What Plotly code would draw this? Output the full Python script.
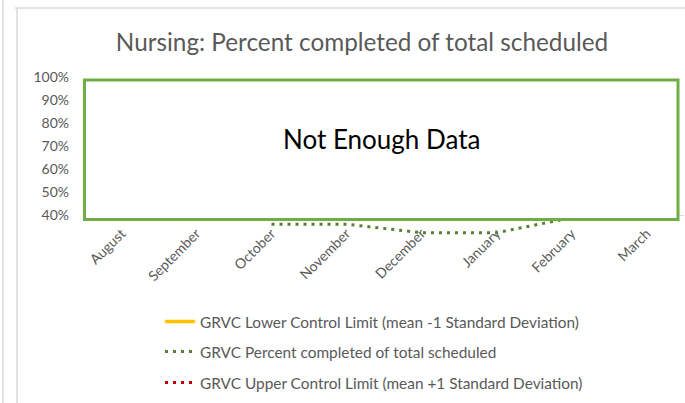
import plotly.graph_objects as go

# Daten
months = ["August", "September", "October", "November", "December", "January", "February", "March"]
pct_completed = [None, None, 0.36, 0.36, 0.323, 0.323, 0.388, None]
lower_limit = [None] * 8
upper_limit = [None] * 8
y_ticks = [0.4, 0.5, 0.6, 0.7, 0.8, 0.9, 1.0]

W, H = 685, 403
L, R, T, B = 84, 1, 77, 150
AXIS_Y = 215  # pixel row of the 40% line

FONT = "Lato, Carlito, Calibri, sans-serif"
GRAY = "#595959"


def px_x(px):
    return (px - L) / (W - L - R)


def px_y(py):
    return (H - B - py) / (H - T - B)


y_dom0 = px_y(AXIS_Y)
px_per_unit = (AXIS_Y - T) / (y_ticks[-1] - y_ticks[0])
y2_low = y_ticks[0] - (H - B - AXIS_Y) / px_per_unit

fig = go.Figure()

fig.add_trace(go.Scatter(
    x=months, y=lower_limit, mode="lines", name="GRVC Lower Control Limit (mean -1 Standard Deviation)",
    line=dict(color="#FFC000", width=3.5), legend="legend", showlegend=True,
))
fig.add_trace(go.Scatter(
    x=months, y=pct_completed, mode="lines", name="GRVC Percent completed of total scheduled",
    line=dict(color="#548235", width=3, dash="3px,5px"), xaxis="x2", yaxis="y2", legend="legend2",
))
fig.add_trace(go.Scatter(
    x=months, y=upper_limit, mode="lines", name="GRVC Upper Control Limit (mean +1 Standard Deviation)",
    line=dict(color="#C00000", width=3, dash="3px,5px"), legend="legend3",
))

legend_style = dict(
    xref="paper", yref="paper", x=px_x(160), xanchor="left", yanchor="middle",
    font=dict(family=FONT, size=15.4, color=GRAY), bgcolor="rgba(0,0,0,0)",
)

fig.update_layout(
    width=W, height=H,
    margin=dict(l=L, r=R, t=T, b=B, autoexpand=False),
    paper_bgcolor="white", plot_bgcolor="rgba(0,0,0,0)",
    showlegend=True,
    font=dict(family=FONT, color=GRAY),
    title=dict(
        text="Nursing: Percent completed of total scheduled",
        x=362 / W, xanchor="center", xref="container",
        y=1 - 42 / H, yanchor="middle", yref="container",
        font=dict(family=FONT, size=24.3, color=GRAY),
    ),
    xaxis=dict(
        type="category", categoryarray=months, range=[-0.5, 7.5], anchor="y",
        showgrid=False, showline=True, linecolor="#D9D9D9", linewidth=1,
        ticks="", tickangle=-45, ticklabelstandoff=4, automargin=False,
        tickfont=dict(family=FONT, size=14, color=GRAY),
    ),
    yaxis=dict(
        domain=[y_dom0, 1], range=[y_ticks[0], y_ticks[-1]],
        tickvals=y_ticks, tickformat=".0%", showgrid=False, zeroline=False,
        ticks="", ticklabelstandoff=14, automargin=False,
        tickfont=dict(family=FONT, size=14, color=GRAY),
    ),
    xaxis2=dict(
        type="category", categoryarray=months, range=[-0.5, 7.5], anchor="y2",
        visible=False, overlaying="x",
    ),
    yaxis2=dict(domain=[0, 1], range=[y2_low, y_ticks[-1]], visible=False, anchor="x2"),
    legend=dict(y=px_y(322), **legend_style),
    legend2=dict(y=px_y(352), **legend_style),
    legend3=dict(y=px_y(383), **legend_style),
)

# Rahmen des Diagramms
for x0, y0, x1, y1 in [(15, 8, 685, 8), (17, 8, 17, 403), (3, 0, 3, 403)]:
    fig.add_shape(type="line", xref="paper", yref="paper",
                  x0=px_x(x0), y0=px_y(y0), x1=px_x(x1), y1=px_y(y1),
                  line=dict(color="#D9D9D9", width=1.5), layer="below")

# Textfeld "Not Enough Data"
fig.add_shape(type="rect", xref="paper", yref="paper",
              x0=px_x(84.5), y0=px_y(219.5), x1=px_x(678), y1=px_y(80),
              line=dict(color="#70AD47", width=3), fillcolor="white", layer="above")
fig.add_annotation(text="Not Enough Data", xref="paper", yref="paper",
                   x=px_x(381), y=px_y(139), showarrow=False,
                   font=dict(family=FONT, size=26, color="black"))

# Seitenrand des Browsers entfernen, damit die Pixel passen
fig.write_html("out.html", config={"displayModeBar": False},
               post_script="document.body.style.margin='0';")
